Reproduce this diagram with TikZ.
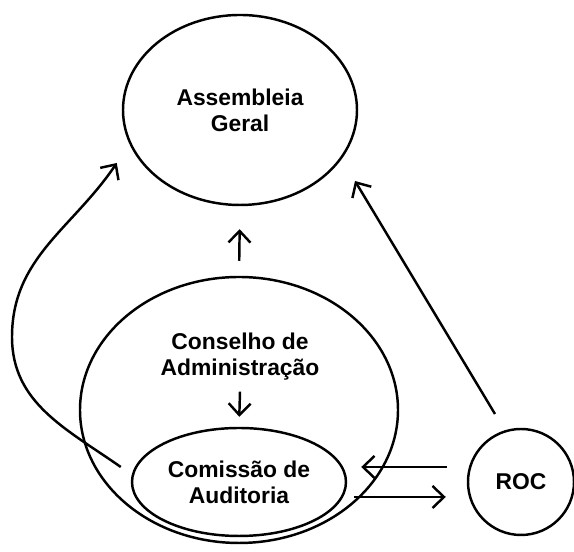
\documentclass[tikz,border=0pt]{standalone}
\usepackage{fontspec}
\setmainfont{Liberation Sans}
\usetikzlibrary{shapes.geometric,arrows.meta}

\tikzset{
  orgao/.style={ellipse, draw, line width=1.4pt, inner sep=0pt, align=center,
    font=\bfseries\fontsize{13}{14.8}\selectfont},
  seta/.style={line width=1.4pt, -{Straight Barb[length=2.3mm,width=4.4mm]}},
}

\begin{document}
\begin{tikzpicture}
    \useasboundingbox (0,0) rectangle (11.48,11.04);

    \node[orgao, minimum width=4.68cm, minimum height=3.8cm] (ag) at (4.8,8.84) {Assembleia\\Geral};
    \node[orgao, minimum width=6.36cm, minimum height=5.32cm] (ca) at (4.78,2.84) {};
    \node[orgao, draw=none] (calabel) at (4.8,3.9) {Conselho de\\Administração};
    \node[orgao, minimum width=4.28cm, minimum height=2.16cm] (cac) at (4.78,1.4) {Comissão de\\Auditoria};
    \node[orgao, circle, minimum size=2.12cm] (roc) at (10.42,1.4) {ROC};

    \coordinate (curva) at (0.24,4.3);

    \draw[seta, shorten <=0.3cm, shorten >=0.46cm] (ca.north) -- (ag.south);
    \draw[seta, shorten >=0.2cm] (calabel.south) -- (cac.north);
    \draw[seta] ([shift={(-0.2,0.3)}]cac.west) to[out=145,in=270] (curva)
        to[out=90,in=236] ([shift={(-0.1,-1.06)}]ag.west);
    \draw[seta] ([shift={(-0.52,1.36)}]roc.center) -- ([shift={(2.3,-1.42)}]ag.center);
    \draw[seta, shorten <=0.4cm, shorten >=0.28cm] ([yshift=0.3cm]roc.west) -- ([yshift=0.3cm]cac.east);
    \draw[seta, shorten <=0.14cm, shorten >=0.42cm] ([yshift=-0.3cm]cac.east) -- ([yshift=-0.3cm]roc.west);
\end{tikzpicture}
\end{document}
